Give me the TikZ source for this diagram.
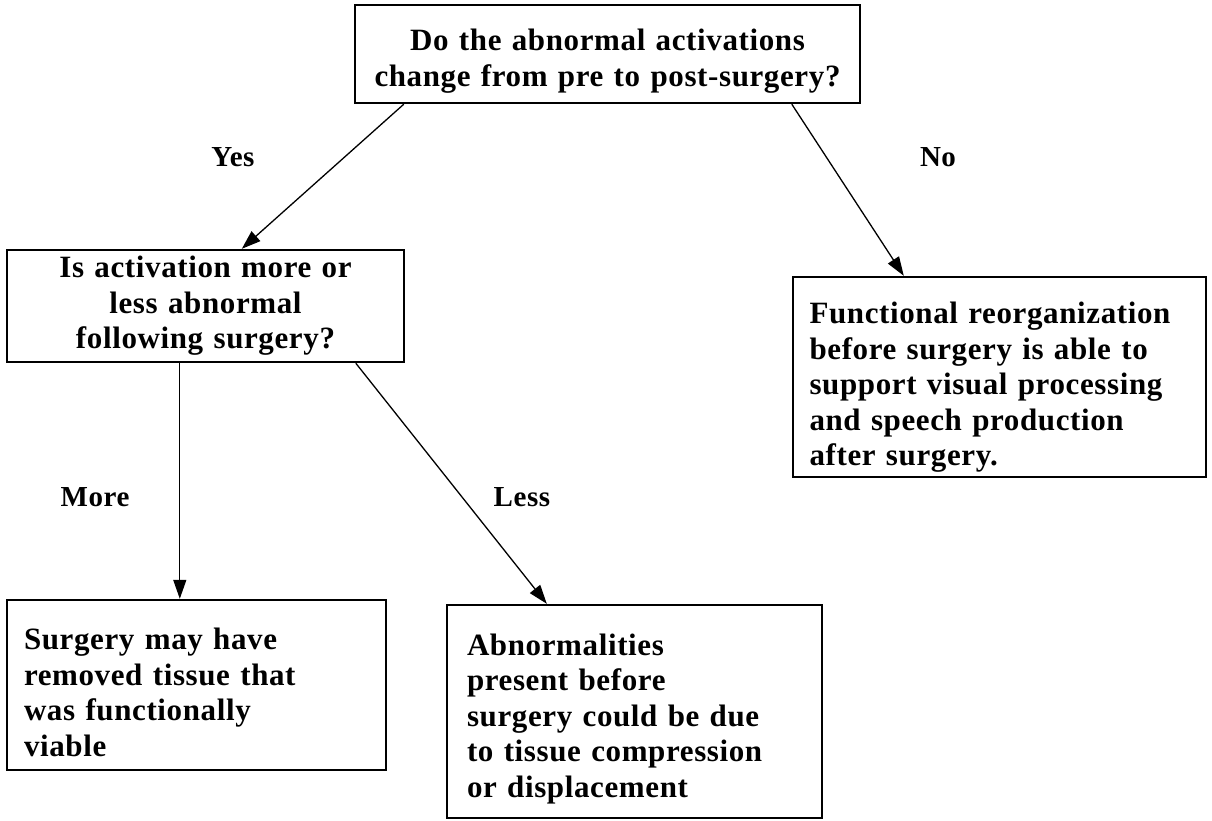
\documentclass[tikz,border=0pt]{standalone}
\usepackage{fontspec}
\setmainfont{Liberation Serif}
\newfontfamily\boxfont{Liberation Serif}[LetterSpace=2]
\newcommand{\tgap}{\rule{0pt}{36pt}}
\newcommand{\tgapb}{\rule{0pt}{42pt}}
\usetikzlibrary{arrows.meta}
\begin{document}
\begin{tikzpicture}[x=1pt,y=-1pt,
  box/.style={draw, line width=2.4pt, inner xsep=22pt, inner ysep=0pt,
    font=\boxfont\bfseries\fontsize{31}{35.5}\selectfont},
  lbl/.style={font=\boxfont\bfseries\fontsize{29}{32}\selectfont, inner sep=0pt},
  arr/.style={-{Triangle[length=19pt,width=13pt]}, line width=1.3pt}]
\useasboundingbox (0,0) rectangle (1212,820);
\node[box, minimum width=505pt, minimum height=98pt, text width=495pt, inner xsep=5pt, align=center]
  (top) at (607.5,54) {\tgap Do the abnormal activations\\change from pre to post-surgery?};
\node[box, minimum width=397pt, minimum height=112pt, text width=380pt, inner xsep=8pt, align=center]
  (q2) at (205.5,306) {Is activation more or\\less abnormal\\following surgery?};
\node[box, minimum width=413pt, minimum height=200pt, text width=380pt, inner xsep=16pt, align=left]
  (no) at (999.5,377) {\tgapb Functional reorganization\\before surgery is able to\\support visual processing\\and speech production\\after surgery.};
\node[box, minimum width=379pt, minimum height=170pt, text width=345pt, inner xsep=17pt, align=left]
  (more) at (196.5,685) {\tgap Surgery may have\\removed tissue that\\was functionally\\viable};
\node[box, minimum width=375pt, minimum height=213pt, text width=335pt, inner xsep=20pt, align=left]
  (less) at (634.5,711.5) {\tgap Abnormalities\\present before\\surgery could be due\\to tissue compression\\or displacement};
\draw[arr] ([xshift=50pt]top.south west) -- ([xshift=236pt]q2.north west);
\draw[arr] ([xshift=438pt]top.south west) -- ([xshift=112pt]no.north west);
\draw[arr] ([xshift=174pt]q2.south west) -- ([xshift=174pt]more.north west);
\draw[arr] ([xshift=350pt]q2.south west) -- ([xshift=101pt]less.north west);
\node[lbl] (yes) at (233,157) {Yes};
\node[lbl] (nolbl) at (938,157) {No};
\node[lbl] (morelbl) at (95,497) {More};
\node[lbl] (lesslbl) at (522,497) {Less};
\end{tikzpicture}
\end{document}
